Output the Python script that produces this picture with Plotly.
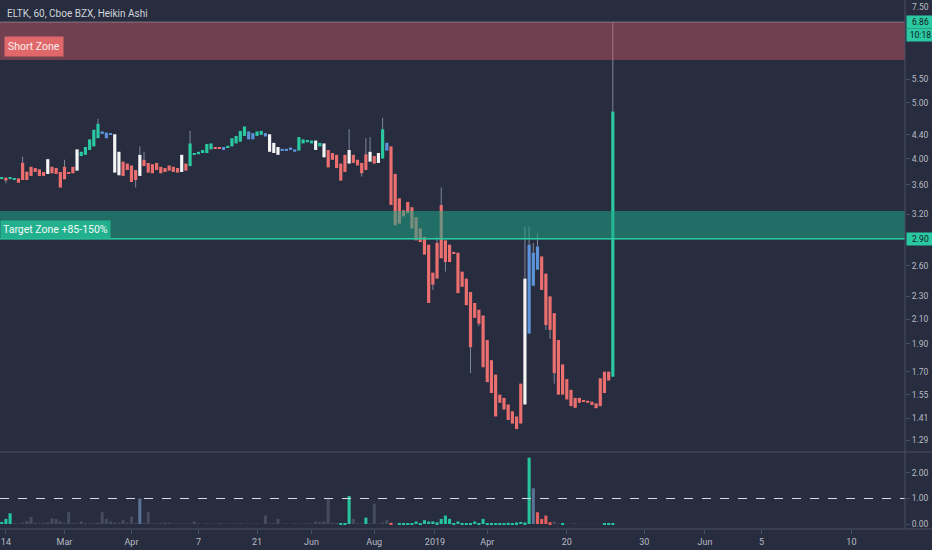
import numpy as np
import plotly.graph_objects as go

# ---------------- data ----------------
opens = [3.685, 3.704, 3.685, 3.68, 3.695, 3.934, 3.794, 3.87, 3.85, 3.83,
         3.79, 3.76, 3.87, 3.85, 3.79, 3.87, 3.79, 3.87, 3.81, 4.04,
         4.06, 4.14, 4.20, 4.34, 4.46, 4.44, 4.43, 3.78, 3.74, 3.95,
         3.92, 3.89, 3.82, 3.73, 3.98, 3.93, 3.91, 3.93, 3.87, 3.85,
         3.89, 3.87, 3.85, 3.79, 3.92, 3.88, 4.06, 4.07, 4.09, 4.09,
         4.15, 4.19, 4.19, 4.19, 4.18, 4.20, 4.25, 4.28, 4.38, 4.46,
         4.43, 4.38, 4.40, 4.43, 4.11, 4.09, 4.06, 4.16, 4.16, 4.18,
         4.15, 4.13, 4.25, 4.27, 4.25, 4.14, 4.20, 4.02, 4.14, 4.09,
         4.06, 3.92, 4.06, 3.92, 4.06, 3.98, 3.93, 4.07, 3.95, 4.04,
         3.93, 4.00, 4.26, 4.20, 3.76, 3.41, 3.25, 3.36, 3.29, 3.16,
         3.02, 2.92, 2.83, 2.53, 2.85, 3.32, 2.88, 2.83, 2.75, 2.74,
         2.54, 2.47, 2.34, 2.24, 2.18, 2.13, 1.93, 1.78, 1.68, 1.55,
         1.53, 1.49, 1.45, 1.42, 1.62, 1.49, 2.83, 2.74, 2.81, 2.70,
         2.52, 2.30, 2.15, 1.93, 1.75, 1.65, 1.58, 1.53, 1.53, 1.517,
         1.513, 1.507, 1.497, 1.655, 1.70, 1.70, 1.665]
highs = [3.71, 3.71, 3.70, 3.70, 3.695, 4.03, 3.794, 3.87, 3.85, 3.83,
         3.79, 3.99, 3.87, 3.85, 3.79, 3.98, 3.79, 3.87, 4.15, 4.11,
         4.19, 4.32, 4.49, 4.69, 4.46, 4.44, 4.43, 4.41, 4.11, 3.95,
         3.92, 3.89, 3.82, 4.20, 4.11, 3.93, 3.91, 3.93, 3.87, 3.85,
         3.89, 3.87, 3.85, 4.06, 3.92, 4.47, 4.09, 4.11, 4.14, 4.24,
         4.25, 4.19, 4.19, 4.19, 4.21, 4.34, 4.38, 4.47, 4.55, 4.46,
         4.43, 4.46, 4.47, 4.43, 4.41, 4.26, 4.19, 4.16, 4.16, 4.18,
         4.15, 4.36, 4.32, 4.31, 4.30, 4.30, 4.26, 4.25, 4.14, 4.09,
         4.06, 3.92, 4.06, 4.50, 4.06, 3.98, 3.93, 4.34, 4.36, 4.04,
         4.09, 4.71, 4.26, 4.20, 3.76, 3.41, 3.25, 3.36, 3.29, 3.16,
         3.02, 2.92, 2.83, 2.53, 2.92, 3.56, 2.88, 2.83, 2.75, 2.74,
         2.54, 2.47, 2.34, 2.24, 2.18, 2.13, 1.93, 1.78, 1.68, 1.55,
         1.53, 1.49, 1.45, 1.42, 1.62, 3.04, 3.04, 2.85, 2.96, 2.70,
         2.52, 2.30, 2.15, 1.93, 1.75, 1.65, 1.58, 1.53, 1.53, 1.517,
         1.513, 1.507, 1.497, 1.655, 1.70, 1.70, 6.90]
lows = [3.68, 3.62, 3.68, 3.675, 3.63, 3.67, 3.67, 3.73, 3.79, 3.73,
        3.73, 3.76, 3.77, 3.76, 3.56, 3.68, 3.76, 3.77, 3.81, 4.04,
        4.06, 4.14, 4.20, 4.34, 4.43, 4.34, 4.40, 3.78, 3.74, 3.73,
        3.82, 3.64, 3.56, 3.73, 3.88, 3.78, 3.77, 3.82, 3.77, 3.79,
        3.81, 3.79, 3.78, 3.79, 3.81, 3.88, 4.06, 4.07, 4.09, 4.09,
        4.15, 4.17, 4.16, 4.14, 4.18, 4.20, 4.25, 4.28, 4.38, 4.32,
        4.32, 4.38, 4.40, 4.37, 4.11, 4.09, 4.06, 4.13, 4.13, 4.14,
        4.11, 4.13, 4.25, 4.27, 4.25, 4.14, 4.20, 4.02, 3.86, 3.98,
        3.85, 3.66, 3.79, 3.92, 3.93, 3.89, 3.72, 3.82, 3.95, 3.92,
        3.93, 4.00, 4.13, 3.32, 3.06, 3.08, 3.17, 3.21, 3.02, 2.88,
        2.86, 2.72, 2.24, 2.36, 2.47, 2.68, 2.54, 2.64, 2.73, 2.33,
        2.39, 2.22, 1.69, 2.11, 2.04, 1.73, 1.63, 1.56, 1.42, 1.50,
        1.46, 1.40, 1.38, 1.35, 1.38, 1.49, 1.98, 2.40, 2.56, 2.36,
        2.01, 1.94, 1.62, 1.55, 1.55, 1.52, 1.48, 1.47, 1.50, 1.505,
        1.50, 1.487, 1.468, 1.48, 1.56, 1.64, 1.665]
closes = [3.704, 3.66, 3.70, 3.695, 3.63, 3.67, 3.67, 3.73, 3.79, 3.73,
          3.73, 3.99, 3.77, 3.76, 3.56, 3.68, 3.76, 3.77, 4.15, 4.11,
          4.19, 4.32, 4.49, 4.60, 4.43, 4.34, 4.40, 4.41, 4.11, 3.73,
          3.82, 3.64, 3.67, 4.06, 3.88, 3.78, 3.77, 3.82, 3.77, 3.79,
          3.81, 3.79, 3.78, 4.06, 3.81, 4.25, 4.09, 4.11, 4.14, 4.24,
          4.25, 4.17, 4.16, 4.14, 4.21, 4.34, 4.38, 4.47, 4.55, 4.32,
          4.32, 4.46, 4.47, 4.37, 4.41, 4.26, 4.19, 4.13, 4.13, 4.14,
          4.11, 4.36, 4.32, 4.31, 4.30, 4.30, 4.26, 4.25, 3.86, 3.98,
          3.85, 3.66, 3.79, 4.14, 3.93, 3.89, 3.77, 3.82, 4.11, 3.92,
          4.09, 4.50, 4.13, 3.32, 3.06, 3.08, 3.17, 3.21, 3.02, 2.88,
          2.86, 2.72, 2.24, 2.41, 2.47, 2.68, 2.64, 2.64, 2.73, 2.33,
          2.39, 2.22, 1.875, 2.11, 2.06, 1.73, 1.63, 1.56, 1.42, 1.50,
          1.46, 1.40, 1.38, 1.35, 1.38, 2.47, 1.98, 2.40, 2.56, 2.36,
          2.05, 2.01, 1.69, 1.55, 1.55, 1.52, 1.48, 1.47, 1.50, 1.505,
          1.50, 1.487, 1.468, 1.48, 1.56, 1.64, 4.83]
# candle colour class: g = teal, r = red, w = white, b = blue
candle_class = list(
    "grggrrrrrr" "rwrrrrrrwg" "ggggbbbwwr" "rrrwrrrrrr" "rrrwrggggg"
    "grrbgggggb" "bggbwwwbbb" "bggggwgwrr" "rrrwrrrrwr" "wgbrrrrrrr"
    "rrrrrrrrrr" "rrrrrrrrrr" "rrrrrwbbbr" "rrrrrrrrrr" "rrrrrrg"
)
volumes = [0.08, 0.20, 0.42, 0.03, 0.02, 0.05, 0.12, 0.28, 0.05, 0.03,
           0.04, 0.06, 0.22, 0.20, 0.10, 0.05, 0.46, 0.04, 0.03, 0.10,
           0.04, 0.03, 0.03, 0.05, 0.46, 0.20, 0.10, 0.06, 0.04, 0.15,
           0.05, 0.29, 0.04, 1.00, 0.05, 0.46, 0.03, 0.02, 0.03, 0.06,
           0.05, 0.02, 0.02, 0.02, 0.02, 0.02, 0.10, 0.02, 0.01, 0.02,
           0.01, 0.02, 0.03, 0.01, 0.02, 0.01, 0.02, 0.03, 0.01, 0.02,
           0.01, 0.02, 0.01, 0.33, 0.02, 0.03, 0.20, 0.01, 0.02, 0.01,
           0.02, 0.01, 0.02, 0.03, 0.02, 0.10, 0.08, 0.10, 1.00, 0.05,
           0.04, 0.04, 0.04, 1.10, 0.20, 0.03, 0.02, 0.25, 0.03, 0.80,
           0.02, 0.06, 0.15, 0.05, 0.02, 0.03, 0.01, 0.01, 0.03, 0.10,
           0.02, 0.15, 0.10, 0.10, 0.07, 0.20, 0.33, 0.20, 0.03, 0.10,
           0.01, 0.01, 0.01, 0.10, 0.01, 0.20, 0.01, 0.01, 0.01, 0.04,
           0.03, 0.05, 0.04, 0.06, 0.08, 0.06, 2.60, 1.40, 0.46, 0.20,
           0.33, 0.07, 0.10, 0.02, 0.04, 0.01, 0.01, 0.03, 0.01, 0.01,
           0.01, 0.01, 0.01, 0.01, 0.03, 0.01, 0.02]
# volume colour class: g = teal, r = red, n = neutral grey, s = slate
volume_class = list(
    "gggnnnnnnn" "nnnnnnnnnn" "nnnnnnnnnn" "nnnsnnnnnn" "nnnnnnnnnn"
    "nnnnnnnnnn" "nnnnnnnnnn" "nnnnnnnnnn" "ngggnnngnn" "nnnrnggggg"
    "gggggggggg" "gggggggggg" "gggggggsrr" "rrnngnnnnn" "nnnnggg"
)
price_ticks = [5.50, 5.00, 4.40, 4.00, 3.60, 3.20, 2.60, 2.30, 2.10,
               1.90, 1.70, 1.55, 1.41, 1.29]
top_tick = 7.50
volume_ticks = [0, 1, 2]
x_tick_pos = [1, 15, 31, 47, 61, 74, 89, 103.5, 116, 135, 153.5, 168, 181.5, 203]
x_tick_labels = ["14", "Mar", "Apr", "7", "21", "Jun", "Aug", "2019", "Apr",
                 "20", "30", "Jun", "5", "10"]
short_zone = [5.94, 6.92]
target_zone = [2.89, 3.24]
target_line = 2.90
last_price = 6.86
countdown = "10:18"
volume_ref = 1.0

# ---------------- styling ----------------
BG = "#272c3e"
TEAL = "#2bc9a2"
CANDLE = {"g": TEAL, "r": "#ec6f6f", "w": "#f4f4f4", "b": "#5d93d8"}
VOLC = {"g": "#26c39d", "r": "#e3605e", "n": "rgba(115,122,140,0.40)", "s": "#5b7396"}
AXIS = "#4a5063"
TICKF = dict(family="Roboto", size=8.5, color="#b8bbc4")

n = min(len(opens), len(highs), len(lows), len(closes), len(candle_class))
idx = list(range(n))

fig = go.Figure()

# wicks: only the parts outside the body
wx, wy = [], []
for i in idx:
    top = max(opens[i], closes[i])
    bot = min(opens[i], closes[i])
    if highs[i] > top:
        wx += [i, i, None]
        wy += [top, highs[i], None]
    if lows[i] < bot:
        wx += [i, i, None]
        wy += [lows[i], bot, None]
fig.add_trace(go.Scatter(x=wx, y=wy, mode="lines", line=dict(color="#808799", width=1),
                         hoverinfo="skip", xaxis="x", yaxis="y"))

# bodies
for k in ["r", "g", "w", "b"]:
    sel = [i for i in idx if candle_class[i] == k]
    fig.add_trace(go.Bar(
        x=sel,
        base=[min(opens[i], closes[i]) for i in sel],
        y=[abs(closes[i] - opens[i]) for i in sel],
        width=0.76, marker=dict(color=CANDLE[k], line=dict(width=0)),
        xaxis="x", yaxis="y", hoverinfo="skip"))

# volume
nv = min(len(volumes), len(volume_class))
fig.add_trace(go.Bar(x=list(range(nv)), y=volumes[:nv], width=0.74,
                     marker=dict(color=[VOLC[c] for c in volume_class[:nv]], line=dict(width=0)),
                     xaxis="x2", yaxis="y2", hoverinfo="skip"))

xr = [-0.41, 215.8]
fig.update_layout(
    width=932, height=550, margin=dict(l=0, r=27, t=0, b=21),
    paper_bgcolor=BG, plot_bgcolor=BG, showlegend=False, barmode="overlay",
    xaxis=dict(domain=[0, 1], range=xr, anchor="y", showticklabels=False,
               showgrid=False, zeroline=False, ticks=""),
    xaxis2=dict(domain=[0, 1], range=xr, matches="x", anchor="y2",
                tickvals=x_tick_pos, ticktext=x_tick_labels, ticks="outside",
                ticklen=4, tickcolor=AXIS, showgrid=False, zeroline=False,
                tickfont=dict(family="Roboto", size=9, color="#b8bbc4")),
    yaxis=dict(domain=[0.1474, 1], type="log", range=[np.log10(1.236), np.log10(7.56)],
               side="right", anchor="x", tickvals=price_ticks,
               ticktext=[f"{v:.2f}" for v in price_ticks], ticks="outside", ticklen=4,
               tickcolor=AXIS, showgrid=False, zeroline=False, tickfont=TICKF),
    yaxis2=dict(domain=[0, 0.1437], range=[-0.196, 2.784], side="right", anchor="x2",
                tickvals=volume_ticks, ticktext=[f"{v:.2f}" for v in volume_ticks],
                ticks="outside", ticklen=4, tickcolor=AXIS, showgrid=False,
                zeroline=False, tickfont=TICKF),
)

shapes = [
    dict(type="rect", xref="paper", yref="y", x0=0, x1=1, y0=short_zone[0], y1=short_zone[1],
         fillcolor="rgba(214,94,104,0.42)", line=dict(width=0), layer="above"),
    dict(type="line", xref="paper", yref="y", x0=0, x1=1, y0=short_zone[1], y1=short_zone[1],
         line=dict(color="rgba(190,190,200,0.45)", width=1), layer="above"),
    dict(type="rect", xref="paper", yref="y", x0=0, x1=1, y0=target_zone[0], y1=target_zone[1],
         fillcolor="rgba(28,165,135,0.55)", line=dict(width=0), layer="above"),
    dict(type="line", xref="paper", yref="y", x0=0, x1=1, y0=target_line, y1=target_line,
         line=dict(color=TEAL, width=1.5), layer="above"),
    dict(type="line", xref="paper", yref="y2", x0=0, x1=1, y0=volume_ref, y1=volume_ref,
         line=dict(color="#d8dbe3", width=1, dash="dash"), layer="above"),
    dict(type="line", xref="paper", yref="paper", x0=1, x1=1, y0=0, y1=1,
         line=dict(color=AXIS, width=1)),
    dict(type="line", xref="paper", yref="paper", x0=0, x1=1.03, y0=0.1456, y1=0.1456,
         line=dict(color=AXIS, width=1.2)),
    dict(type="line", xref="paper", yref="paper", x0=0, x1=1.03, y0=0, y1=0,
         line=dict(color=AXIS, width=1.2)),
]
fig.update_layout(shapes=shapes)

ann = [
    dict(text="ELTK, 60, Cboe BZX, Heikin Ashi", xref="paper", yref="paper", x=0.006, y=0.9754,
         xanchor="left", yanchor="middle", showarrow=False,
         font=dict(family="Roboto", size=10, color="#d1d4dc")),
    dict(text="Short Zone", xref="paper", yref="y", x=0.0045, y=np.log10(6.26),
         xanchor="left", yanchor="middle", showarrow=False, bgcolor="#e0686a", borderpad=3,
         font=dict(family="Roboto", size=10.5, color="#fbeeee")),
    dict(text="Target Zone +85-150%", xref="paper", yref="y", x=0.0, y=np.log10(3.006),
         xanchor="left", yanchor="middle", showarrow=False, bgcolor="#22b08e", borderpad=2,
         font=dict(family="Roboto", size=10.5, color="#f2fbf8")),
    dict(text=f"{top_tick:.2f}", xref="paper", yref="paper", x=1, y=1,
         xanchor="left", yanchor="top", xshift=5, showarrow=False,
         font=TICKF),
    dict(text=f"{last_price:.2f}", xref="paper", yref="y", x=1, y=np.log10(last_price),
         xanchor="left", yanchor="middle", xshift=1, yshift=2, showarrow=False,
         bgcolor=TEAL, width=25, borderpad=1, font=dict(family="Roboto", size=8.5, color="#131722")),
    dict(text=countdown, xref="paper", yref="y", x=1, y=np.log10(last_price),
         xanchor="left", yanchor="middle", xshift=1, yshift=-11, showarrow=False,
         bgcolor=TEAL, width=25, borderpad=1, font=dict(family="Roboto", size=8.5, color="#131722")),
    dict(text=f"{target_line:.2f}", xref="paper", yref="y", x=1, y=np.log10(target_line),
         xanchor="left", yanchor="middle", xshift=1, showarrow=False,
         bgcolor=TEAL, width=25, borderpad=1, font=dict(family="Roboto", size=8.5, color="#131722")),
]
fig.update_layout(annotations=ann)

fig.write_html("out.html", config={"displayModeBar": False},
               post_script="document.body.style.margin='0';document.body.style.overflow='hidden';"
                           "document.body.style.background='" + BG + "';")
